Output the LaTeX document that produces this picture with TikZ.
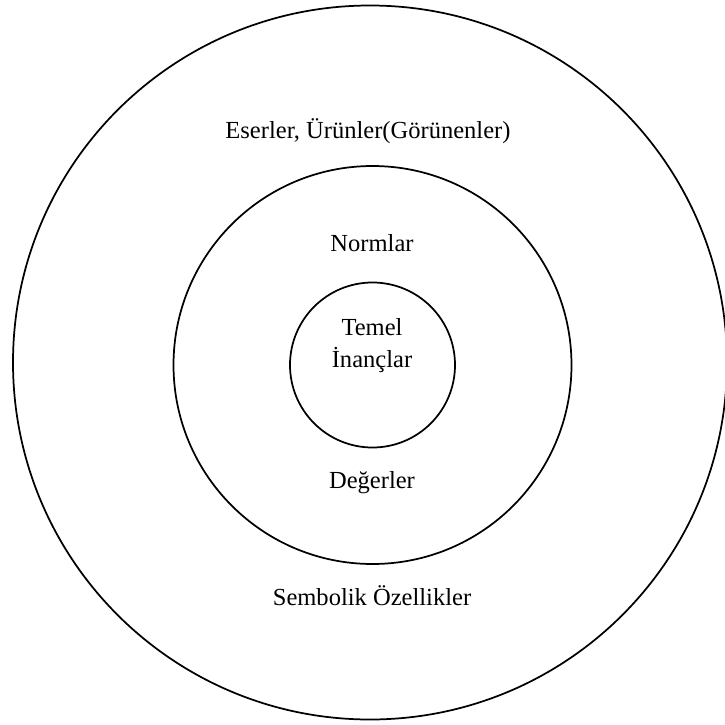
\documentclass[tikz,border=0pt]{standalone}
\usepackage{fontspec}
\setmainfont{Liberation Serif}
\begin{document}
\begin{tikzpicture}[x=0.75pt,y=-0.75pt,
  ring/.style={draw=black,line width=1.3pt},
  lbl/.style={font=\fontsize{18.4}{24.5}\selectfont,inner sep=0pt,anchor=base,align=center}]
\useasboundingbox (0,0) rectangle (725,725);
\clip (0,0) rectangle (725,725);
\coordinate (co) at (370,362.5);
\coordinate (cm) at (372.5,365);
\draw[ring] (co) circle[radius=357];
\draw[ring] (cm) circle[radius=199];
\draw[ring] (cm) circle[radius=82.5];
\node[lbl] (eser) at (368,138) {Eserler, Ürünler(Görünenler)};
\node[lbl] (norm) at (372,251) {Normlar};
\node[lbl] (temel) at (372,335) {Temel};
\node[lbl] (inanc) at (372,367) {İnançlar};
\node[lbl] (deger) at (372,488) {Değerler};
\node[lbl] (semb) at (372,605) {Sembolik Özellikler};
\end{tikzpicture}
\end{document}
